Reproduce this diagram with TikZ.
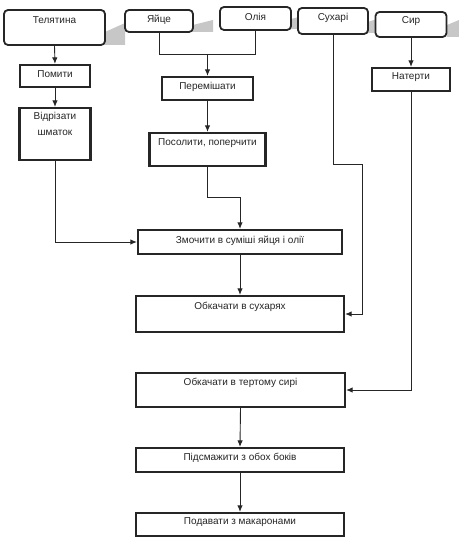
\documentclass[tikz,border=0pt]{standalone}
\usepackage{fontspec}
\setmainfont{Liberation Sans}
\usetikzlibrary{arrows.meta}
\tikzset{
  startbox/.style={draw=black!85, line width=1.8bp, rounded corners=4bp, fill=white, inner sep=0pt},
  procbox/.style={draw=black!85, line width=2.3bp, fill=white, inner sep=0pt},
  txt/.style={font=\fontsize{10bp}{16bp}\selectfont, text=black!85, inner sep=0pt, align=center},
  conn/.style={draw=black!85, line width=0.9bp},
  arr/.style={conn, -{Latex[length=6.5bp,width=5.5bp]}},
  shadowfill/.style={fill=black!22, draw=none}
}
\begin{document}
\begin{tikzpicture}[x=1bp,y=-1bp]
\useasboundingbox (0,0) rectangle (459,547);
% shadows of the top boxes
\fill[shadowfill] (105,32) -- (125,23) -- (125,45) -- (105,45) -- cycle;
\fill[shadowfill] (193,25) -- (213,20) -- (213,32) -- (193,32) -- cycle;
\fill[shadowfill] (291,19) -- (303,16) -- (303,29) -- (291,29) -- cycle;
\fill[shadowfill] (368,22) -- (380,18) -- (380,33) -- (368,33) -- cycle;
\fill[shadowfill] (447,25) -- (459,20) -- (459,37) -- (447,37) -- cycle;
% top boxes
\node[startbox, minimum width=101bp, minimum height=35bp] (tel) at (54.5,27.5) {};
\node[txt] (telt) at (54.5,20) {Телятина};
\node[startbox, minimum width=68bp, minimum height=22bp] (egg) at (159,21) {};
\node[txt] (eggt) at (159,20) {Яйце};
\node[startbox, minimum width=71bp, minimum height=23bp] (oil) at (255.5,18.5) {};
\node[txt] (oilt) at (255.5,17) {Олія};
\node[startbox, minimum width=70bp, minimum height=26bp] (crumb) at (333,21) {};
\node[txt] (crumbt) at (333,18) {Сухарі};
\node[startbox, minimum width=71bp, minimum height=25bp] (cheese) at (411,24.5) {};
\node[txt] (cheeset) at (411,21) {Сир};
% process boxes
\node[procbox, minimum width=70bp, minimum height=22bp] (wash) at (55,76) {};
\node[txt] (washt) at (55,74.5) {Помити};
\node[procbox, minimum width=71bp, minimum height=52bp] (cut) at (55,134) {};
\node[txt, anchor=north] (cutt) at (55,112) {Відрізати\\шматок};
\node[procbox, minimum width=91bp, minimum height=23bp] (mix) at (207.5,88.5) {};
\node[txt] (mixt) at (207.5,87) {Перемішати};
\node[procbox, minimum width=116bp, minimum height=33bp] (salt) at (207.5,149.5) {};
\node[txt] (saltt) at (207.5,143) {Посолити, поперчити};
\node[procbox, minimum width=78bp, minimum height=23bp] (grate) at (411,79.5) {};
\node[txt] (gratet) at (411,77) {Натерти};
\node[procbox, minimum width=204bp, minimum height=24bp] (wet) at (240,242) {};
\node[txt] (wett) at (240,240.5) {Змочити в суміші яйця і олії};
\node[procbox, minimum width=208bp, minimum height=36bp] (rolla) at (240,314) {};
\node[txt] (rollat) at (240,307) {Обкачати в сухарях};
\node[procbox, minimum width=209bp, minimum height=34bp] (rollb) at (240.5,390) {};
\node[txt] (rollbt) at (240.5,383) {Обкачати в тертому сирі};
\node[procbox, minimum width=208bp, minimum height=24bp] (fry) at (240,460) {};
\node[txt] (fryt) at (240,458) {Підсмажити з обох боків};
\node[procbox, minimum width=208bp, minimum height=23bp] (serve) at (240,524.5) {};
\node[txt] (servet) at (240,522.5) {Подавати з макаронами};
% helper coordinates
\coordinate (j) at (207.5,54);
\coordinate (k) at (240,197);
\coordinate (c) at (362,164);
% connectors
\draw[arr] (tel.south) -- (wash.north);
\draw[arr] (wash.south) -- (cut.north);
\draw[arr] (cut.south) |- (wet.west);
\draw[conn] (egg.south) |- (oil.south |- j) -- (oil.south);
\draw[arr] (j) -- (mix.north);
\draw[arr] (mix.south) -- (salt.north);
\draw[arr] (salt.south) |- (k) -- (wet.north);
\draw[arr] (wet.south) -- (rolla.north);
\draw[arr] (crumb.south) |- (c) |- (rolla.east);
\draw[arr] (cheese.south) -- (grate.north);
\draw[arr] (grate.south) |- (rollb.east);
\draw[arr] (rollb.south) -- (fry.north);
\draw[arr] (fry.south) -- (serve.north);
\end{tikzpicture}
\end{document}
